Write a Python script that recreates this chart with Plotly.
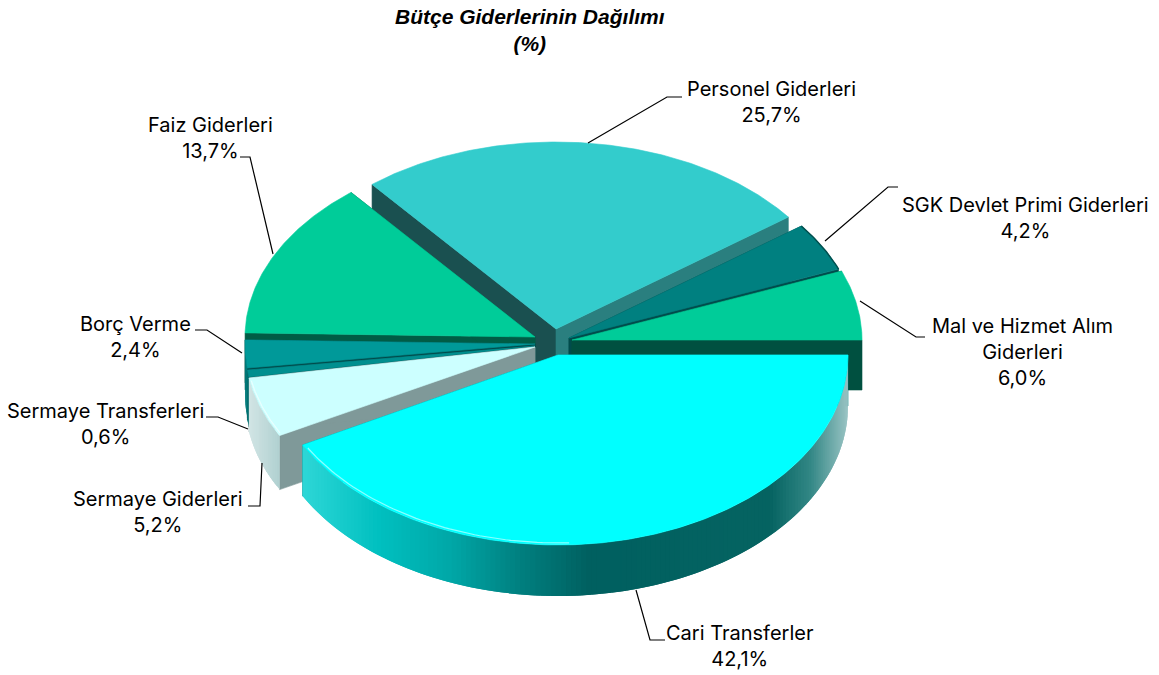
import numpy as np
import plotly.graph_objects as go

# ---- data ----
categories = ["Cari Transferler", "Sermaye Giderleri", "Sermaye Transferleri", "Borç Verme",
              "Faiz Giderleri", "Personel Giderleri", "SGK Devlet Primi Giderleri",
              "Mal ve Hizmet Alım<br>Giderleri"]
values = [42.1, 5.2, 0.6, 2.4, 13.7, 25.7, 4.2, 6.0]
title_lines = ["Bütçe Giderlerinin Dağılımı", "(%)"]

# ---- 3-D look (layout, colours) ----
W, H = 1159, 675
RX, RY, DEPTH = 290, 187, 50
START = 90.0
TOTAL = sum(values)
apex = {"Cari Transferler": (558, 355), "Sermaye Giderleri": (535, 347), "Sermaye Transferleri": (535, 346),
        "Borç Verme": (535, 344), "Faiz Giderleri": (535, 337), "Personel Giderleri": (556, 329),
        "SGK Devlet Primi Giderleri": (569, 338), "Mal ve Hizmet Alım<br>Giderleri": (572, 340)}
top_col = {"Cari Transferler": "#00FFFF", "Sermaye Giderleri": "#CCFFFF", "Sermaye Transferleri": "#008F8F",
           "Borç Verme": "#009999", "Faiz Giderleri": "#00CC99", "Personel Giderleri": "#33CCCC",
           "SGK Devlet Primi Giderleri": "#008080", "Mal ve Hizmet Alım<br>Giderleri": "#00CC99"}
cut_a = {"Cari Transferler": "#007F7F", "Sermaye Giderleri": "#7F9999", "Sermaye Transferleri": "#004C4C",
         "Borç Verme": "#004C4C", "Faiz Giderleri": "#005C45", "Personel Giderleri": "#1A5050",
         "SGK Devlet Primi Giderleri": "#004C4C", "Mal ve Hizmet Alım<br>Giderleri": "#005040"}
cut_b = dict(cut_a)
cut_b["Personel Giderleri"] = "#2A7F7F"
depth = {"Cari Transferler": 51, "Sermaye Giderleri": 54}
ry_over = {"Cari Transferler": 190}
side_ramp = {
    "Cari Transferler": [(300, (48, 216, 216)), (380, (0, 192, 192)), (450, (0, 168, 168)), (520, (0, 128, 128)),
                         (590, (0, 96, 96)), (770, (6, 100, 98)), (810, (50, 135, 133)), (850, (160, 200, 200))],
    "Sermaye Giderleri": [(245, (215, 232, 232)), (285, (170, 205, 205))],
    "Sermaye Transferleri": [(240, (0, 120, 120)), (290, (0, 110, 110))],
    "Borç Verme": [(240, (0, 125, 125)), (290, (0, 110, 110))],
    "Faiz Giderleri": [(240, (0, 110, 80)), (860, (0, 110, 80))],
    "Personel Giderleri": [(240, (20, 100, 100)), (860, (20, 100, 100))],
    "SGK Devlet Primi Giderleri": [(240, (0, 76, 76)), (860, (0, 76, 76))],
    "Mal ve Hizmet Alım<br>Giderleri": [(240, (0, 80, 64)), (870, (0, 80, 64))],
}
draw_order = ["Personel Giderleri", "Faiz Giderleri", "SGK Devlet Primi Giderleri",
              "Mal ve Hizmet Alım<br>Giderleri", "Borç Verme", "Sermaye Transferleri",
              "Sermaye Giderleri", "Cari Transferler"]

# slice angles from the values (clockwise from top, degrees)
bounds = {}
cum = START
for c, v in zip(categories, values):
    bounds[c] = (cum, cum + v / TOTAL * 360)
    cum += v / TOTAL * 360


def pt(c, deg):
    ax, ay = apex[c]
    t = np.radians(deg)
    return ax + RX * np.sin(t), ay - ry_over.get(c, RY) * np.cos(t)


def poly(fig, xs, ys, color, lw=0.6):
    fig.add_trace(go.Scatter(x=xs, y=ys, mode="lines", fill="toself", fillcolor=color,
                             line=dict(color=color, width=lw), hoverinfo="skip", showlegend=False))


def ramp(stops, x):
    if x <= stops[0][0]:
        return "rgb(%d,%d,%d)" % stops[0][1]
    for (f0, c0), (f1, c1) in zip(stops, stops[1:]):
        if x <= f1:
            k = (x - f0) / (f1 - f0)
            return "rgb(%d,%d,%d)" % tuple(a + (b - a) * k for a, b in zip(c0, c1))
    return "rgb(%d,%d,%d)" % stops[-1][1]


fig = go.Figure()
for c in draw_order:
    a0, a1 = bounds[c]
    ax, ay = apex[c]
    dp = depth.get(c, DEPTH)
    for deg, col in ((a0, cut_a[c]), (a1, cut_b[c])):
        x, y = pt(c, deg)
        poly(fig, [ax, x, x, ax, ax], [ay, y, y + dp, ay + dp, ay], col)
    # outer wall: only the part that faces the viewer; strips overlap so no seams show
    lo, hi = max(a0, 90), min(a1, 270)
    if hi > lo:
        n = max(2, int((hi - lo) / 1.0))
        edges = np.linspace(lo, hi, n + 1)
        step = edges[1] - edges[0]
        for d0 in edges[:-1]:
            d1 = d0 + step
            d2 = min(d1 + step, hi)
            ts = np.array([d0, d1, d2])
            xs, ys = pt(c, ts)
            poly(fig, [*xs, *xs[::-1], xs[0]], [*ys, *(ys[::-1] + dp), ys[0]],
                 ramp(side_ramp[c], (xs[0] + xs[1]) / 2), lw=0)
    ts = np.linspace(a0, a1, max(4, int(a1 - a0) * 2))
    px_, py_ = pt(c, ts)
    poly(fig, [ax, *px_, ax], [ay, *py_, ay], top_col[c])

# dark rim of the SGK slice
a0, a1 = bounds["SGK Devlet Primi Giderleri"]
px_, py_ = pt("SGK Devlet Primi Giderleri", np.linspace(a0, a1, 30))
fig.add_trace(go.Scatter(x=px_, y=py_, mode="lines", line=dict(color="#00504F", width=1.5),
                         hoverinfo="skip", showlegend=False))

# rim highlight on the bevel of the front slices
for c, lo, hi in (("Cari Transferler", 178, 240), ("Sermaye Giderleri", 242, 259)):
    ts = np.linspace(lo, hi, 60)
    px_, py_ = pt(c, ts)
    fig.add_trace(go.Scatter(x=px_ + 1, y=py_ - 2, mode="lines", line=dict(color="rgba(255,255,255,.55)", width=1.2),
                             hoverinfo="skip", showlegend=False))

# leaders: (from pie edge, elbow, text end)
leaders = {
    "Personel Giderleri": [(588, 143), (667, 97), (682, 97)],
    "Faiz Giderleri": [(273, 254), (250, 157), (240, 157)],
    "SGK Devlet Primi Giderleri": [(825, 241), (888, 187), (898, 187)],
    "Mal ve Hizmet Alım<br>Giderleri": [(860, 301), (916, 337), (925, 337)],
    "Borç Verme": [(242, 353), (207, 330), (195, 330)],
    "Sermaye Transferleri": [(248, 429), (218, 417), (206, 417)],
    "Sermaye Giderleri": [(262, 463), (260, 506), (248, 506)],
    "Cari Transferler": [(636, 590), (650, 640), (665, 640)],
}
for c, pts in leaders.items():
    fig.add_trace(go.Scatter(x=[p[0] for p in pts], y=[p[1] for p in pts], mode="lines",
                             line=dict(color="black", width=1.2), hoverinfo="skip", showlegend=False))

label_pos = {
    "Personel Giderleri": (771, 102), "Faiz Giderleri": (210, 138), "SGK Devlet Primi Giderleri": (1025, 218),
    "Mal ve Hizmet Alım<br>Giderleri": (1022, 352), "Borç Verme": (135, 337), "Sermaye Transferleri": (105, 424),
    "Sermaye Giderleri": (158, 512), "Cari Transferler": (740, 646),
}
FONT = "Inter"
for c, v in zip(categories, values):
    x, y = label_pos[c]
    txt = c + "<br>" + f"{v:.1f}".replace(".", ",") + "%"
    fig.add_annotation(x=x, y=y, text=txt, showarrow=False, xanchor="center", yanchor="middle",
                       font=dict(family=FONT, size=20, color="black"), align="center")

fig.add_annotation(x=530, y=30, text="<b><i>" + "<br>".join(title_lines) + "</i></b>", showarrow=False,
                   xanchor="center", yanchor="middle", align="center",
                   font=dict(family="Liberation Sans", size=21, color="black"))

fig.update_layout(
    width=W, height=H, margin=dict(l=0, r=0, t=0, b=0), paper_bgcolor="white", plot_bgcolor="white",
    showlegend=False,
    xaxis=dict(range=[0, W], visible=False, fixedrange=True),
    yaxis=dict(range=[H, 0], visible=False, fixedrange=True),
)
fig.write_html("out.html", config={"displayModeBar": False},
               post_script="document.body.style.margin='0';document.documentElement.style.overflow='hidden';")
